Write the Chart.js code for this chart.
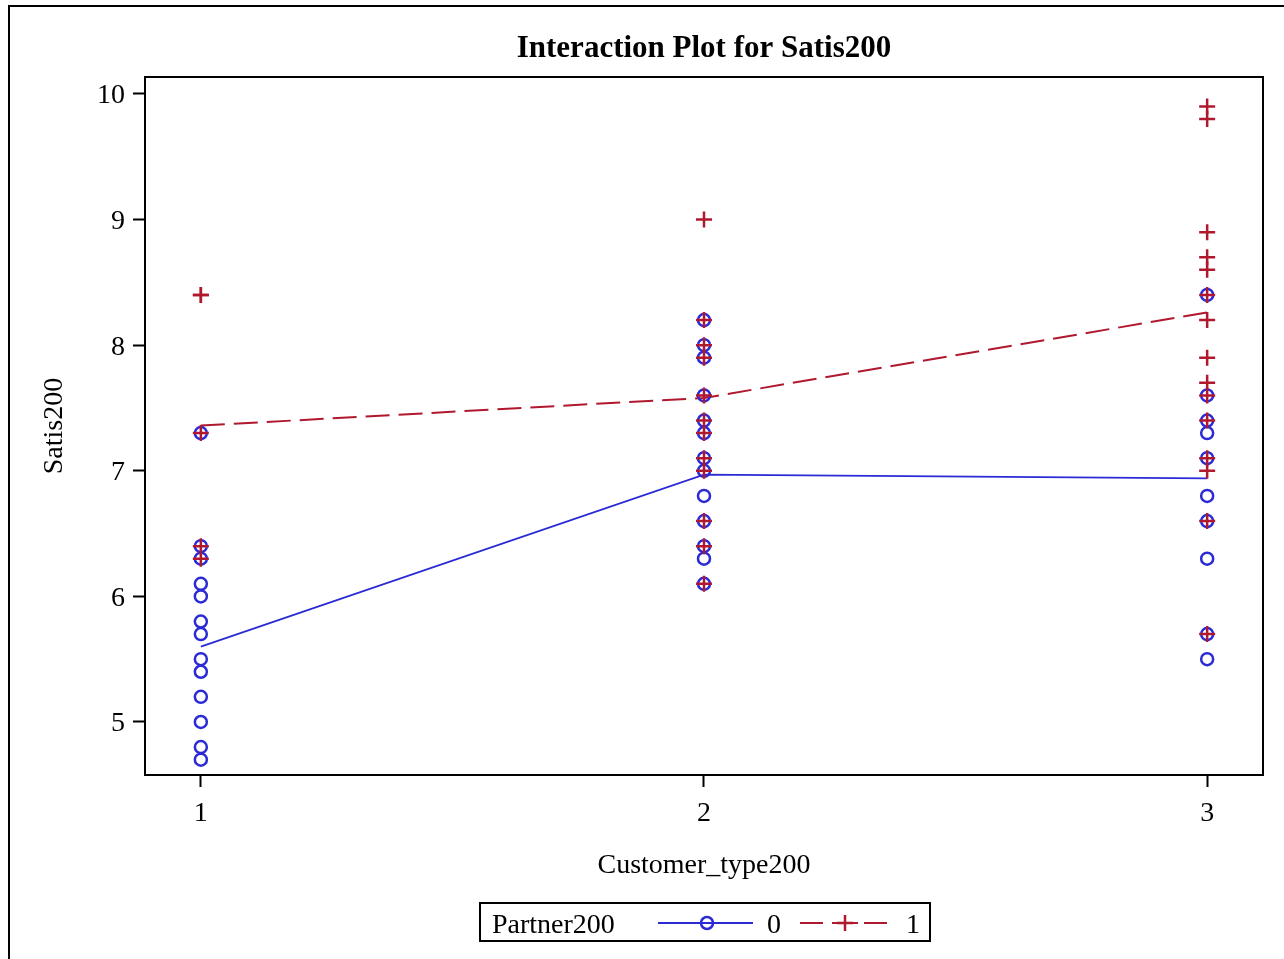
<!DOCTYPE html>
<html>
<head>
<meta charset="utf-8">
<script src="https://cdn.jsdelivr.net/npm/chart.js@4/dist/chart.umd.min.js"></script>
<style>
  html, body { margin: 0; padding: 0; background: #fff; }
  #wrap { width: 1284px; height: 959px; position: relative; }
</style>
</head>
<body>
<div id="wrap"><canvas id="chart"></canvas></div>
<script>
// customer types on x
const categories = [1, 2, 3];
const yTicks = [5, 6, 7, 8, 9, 10];

// Satis200 observations, Partner200 = 0
const partner0Type1 = [7.3, 6.4, 6.3, 6.1, 6.0, 5.8, 5.7, 5.5, 5.4, 5.2, 5.0, 4.8, 4.7];
const partner0Type2 = [8.2, 8.0, 7.9, 7.6, 7.4, 7.3, 7.1, 7.0, 6.8, 6.6, 6.4, 6.3, 6.1];
const partner0Type3 = [8.4, 7.6, 7.4, 7.3, 7.1, 6.8, 6.6, 6.3, 5.7, 5.5];

// Satis200 observations, Partner200 = 1
const partner1Type1 = [8.4, 8.4, 7.3, 6.4, 6.3];
const partner1Type2 = [9.0, 8.2, 8.0, 7.9, 7.6, 7.4, 7.3, 7.1, 7.0, 6.6, 6.4, 6.1];
const partner1Type3 = [9.9, 9.8, 8.9, 8.7, 8.6, 8.4, 8.2, 7.9, 7.7, 7.6, 7.4, 7.1, 7.0, 6.6, 5.7];

// group means (interaction lines)
const means0 = [5.6, 6.97, 6.94];
const means1 = [7.36, 7.58, 8.26];

const blue = "#2b2bd6";
const red = "#b0182e";
const serif = "'Liberation Serif', 'Times New Roman', serif";

function toPoints(groups) {
    const pts = [];
    groups.forEach((vals, i) => {
        vals.forEach(v => pts.push({ x: categories[i], y: v }));
    });
    return pts;
}

const frame = {
    id: "frame",
    afterDraw(chart) {
        const c = chart.ctx;
        const a = chart.chartArea;
        c.save();
        c.strokeStyle = "#000";
        c.lineWidth = 2;
        c.strokeRect(a.left, a.top, a.right - a.left, a.bottom - a.top);

        // outer border (left and top)
        c.beginPath();
        c.moveTo(9, 959);
        c.lineTo(9, 6);
        c.lineTo(1284, 6);
        c.stroke();

        c.fillStyle = "#000";
        c.textAlign = "center";
        c.textBaseline = "alphabetic";
        c.font = "bold 31px " + serif;
        c.fillText("Interaction Plot for Satis200", (a.left + a.right) / 2, 57);

        c.font = "28px " + serif;
        c.fillText("Customer_type200", (a.left + a.right) / 2, 873);

        c.save();
        c.translate(62, (a.top + a.bottom) / 2);
        c.rotate(-Math.PI / 2);
        c.fillText("Satis200", 0, 0);
        c.restore();

        // legend
        c.lineWidth = 2;
        c.strokeRect(480, 903, 450, 38);
        c.textAlign = "left";
        c.fillText("Partner200", 492, 933);

        const ly = 923;
        c.strokeStyle = blue;
        c.lineWidth = 1.8;
        c.beginPath();
        c.moveTo(658, ly);
        c.lineTo(753, ly);
        c.stroke();
        c.lineWidth = 2.5;
        c.beginPath();
        c.arc(707, ly, 6, 0, Math.PI * 2);
        c.stroke();
        c.fillText("0", 767, 933);

        c.strokeStyle = red;
        c.lineWidth = 2;
        c.beginPath();
        [[800, 823], [832, 858], [864, 887]].forEach(s => {
            c.moveTo(s[0], ly);
            c.lineTo(s[1], ly);
        });
        c.stroke();
        c.lineWidth = 2.5;
        c.beginPath();
        c.moveTo(845, ly - 8);
        c.lineTo(845, ly + 8);
        c.moveTo(837, ly);
        c.lineTo(853, ly);
        c.stroke();
        c.fillText("1", 906, 933);
        c.restore();
    }
};

new Chart(document.getElementById("chart"), {
    type: "scatter",
    data: {
        datasets: [
            {
                label: "1",
                data: toPoints([partner1Type1, partner1Type2, partner1Type3]),
                pointStyle: "cross",
                pointRadius: 8,
                pointBorderWidth: 2.5,
                borderColor: red,
                backgroundColor: red,
                order: 0
            },
            {
                label: "0",
                data: toPoints([partner0Type1, partner0Type2, partner0Type3]),
                pointStyle: "circle",
                pointRadius: 6,
                pointBorderWidth: 2.5,
                borderColor: blue,
                backgroundColor: "rgba(0,0,0,0)",
                order: 1
            },
            {
                type: "line",
                label: "mean 1",
                data: categories.map((x, i) => ({ x: x, y: means1[i] })),
                borderColor: red,
                borderWidth: 2,
                borderDash: [24, 9],
                pointRadius: 0,
                tension: 0,
                order: 2
            },
            {
                type: "line",
                label: "mean 0",
                data: categories.map((x, i) => ({ x: x, y: means0[i] })),
                borderColor: blue,
                borderWidth: 1.8,
                pointRadius: 0,
                tension: 0,
                order: 3
            }
        ]
    },
    options: {
        responsive: true,
        maintainAspectRatio: false,
        animation: false,
        layout: { padding: { left: 0, right: 21, top: 77, bottom: 0 } },
        plugins: {
            legend: { display: false },
            tooltip: { enabled: false },
            title: { display: false }
        },
        scales: {
            x: {
                type: "linear",
                min: 0.889,
                max: 3.111,
                afterBuildTicks: scale => {
                    scale.ticks = categories.map(v => ({ value: v }));
                },
                afterFit: scale => { scale.height = 184; },
                grid: {
                    drawOnChartArea: false,
                    drawTicks: true,
                    tickLength: 12,
                    tickColor: "#000",
                    tickWidth: 2
                },
                border: { display: true, color: "#000", width: 2 },
                ticks: {
                    color: "#000",
                    padding: 10,
                    font: { family: serif, size: 28 },
                    callback: v => String(v)
                }
            },
            y: {
                type: "linear",
                min: 4.578,
                max: 10.135,
                afterBuildTicks: scale => {
                    scale.ticks = yTicks.map(v => ({ value: v }));
                },
                afterFit: scale => { scale.width = 145; },
                grid: {
                    drawOnChartArea: false,
                    drawTicks: true,
                    tickLength: 12,
                    tickColor: "#000",
                    tickWidth: 2
                },
                border: { display: true, color: "#000", width: 2 },
                ticks: {
                    color: "#000",
                    padding: 8,
                    labelOffset: 2,
                    font: { family: serif, size: 28 },
                    callback: v => String(v)
                }
            }
        }
    },
    plugins: [frame]
});
</script>
</body>
</html>
